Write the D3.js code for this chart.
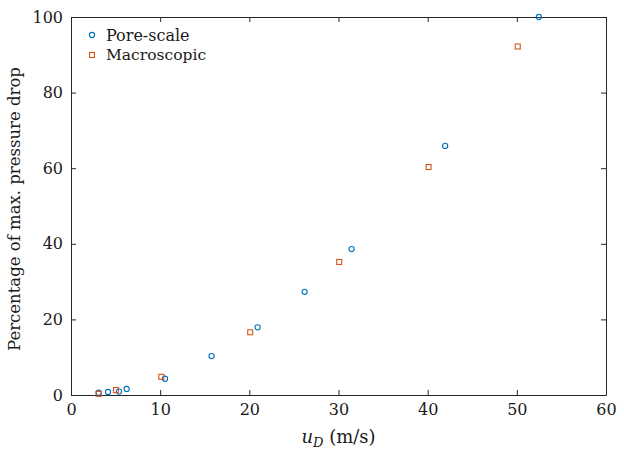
<!DOCTYPE html>
<html>
<head>
<meta charset="utf-8">
<script src="https://cdn.jsdelivr.net/npm/d3@7"></script>
<style>
  body { margin: 0; background: #fff; }
</style>
</head>
<body>
<div id="chart"></div>
<script>
// pore-scale simulation (circles)
const poreU = [3.1, 4.15, 5.38, 6.24, 10.54, 15.77, 20.93, 26.2, 31.47, 41.96, 52.47];
const poreP = [0.6, 0.8, 0.9, 1.6, 4.3, 10.3, 17.9, 27.3, 38.6, 65.9, 100];
// macroscopic model (squares)
const macroU = [3.1, 5.04, 10.13, 20.1, 30.08, 40.1, 50.1];
const macroP = [0.3, 1.3, 4.8, 16.6, 35.2, 60.3, 92.2];

const xTicks = [0, 10, 20, 30, 40, 50, 60];
const yTicks = [0, 20, 40, 60, 80, 100];

const W = 624, H = 449;
const margin = {left: 71, right: 18, top: 17, bottom: 54};
const width = W - margin.left - margin.right, height = H - margin.top - margin.bottom;
const axisColor = "#262626";
const blue = "#0072BD", orange = "#D95319";
const serif = "DejaVu Serif";

const svg = d3.select("#chart").append("svg")
    .attr("width", W).attr("height", H)
    .attr("font-family", serif)
  .append("g")
    .attr("transform", "translate(" + margin.left + "," + margin.top + ")");

const x = d3.scaleLinear().domain([0, 60]).range([0, width]);
const y = d3.scaleLinear().domain([0, 100]).range([height, 0]);

// axes, ticks pointing inward, on all four sides
function styleAxis(g) {
    g.attr("font-family", serif);
    g.select(".domain").attr("stroke", axisColor).attr("stroke-width", 1);
    g.selectAll(".tick line").attr("stroke", axisColor);
    g.selectAll(".tick text").style("font-size", "16px").attr("fill", "#1a1a1a");
}
svg.append("g").attr("transform", "translate(0," + height + ")")
    .call(d3.axisBottom(x).tickValues(xTicks).tickSizeInner(-5).tickSizeOuter(0).tickPadding(9))
    .call(styleAxis);
svg.append("g")
    .call(d3.axisLeft(y).tickValues(yTicks).tickSizeInner(-5).tickSizeOuter(0).tickPadding(8))
    .call(styleAxis);
svg.append("g")
    .call(d3.axisTop(x).tickValues(xTicks).tickSizeInner(-5).tickSizeOuter(0).tickFormat(""))
    .call(styleAxis);
svg.append("g").attr("transform", "translate(" + width + ",0)")
    .call(d3.axisRight(y).tickValues(yTicks).tickSizeInner(-5).tickSizeOuter(0).tickFormat(""))
    .call(styleAxis);

// data
svg.append("g").selectAll("circle")
    .data(d3.zip(poreU, poreP))
    .enter().append("circle")
    .attr("cx", d => x(d[0]))
    .attr("cy", d => y(d[1]))
    .attr("r", 2.6)
    .attr("fill", "none")
    .attr("stroke", blue)
    .attr("stroke-width", 1.1);

const s = 5;
svg.append("g").selectAll("rect")
    .data(d3.zip(macroU, macroP))
    .enter().append("rect")
    .attr("x", d => x(d[0]) - s / 2)
    .attr("y", d => y(d[1]) - s / 2)
    .attr("width", s).attr("height", s)
    .attr("fill", "none")
    .attr("stroke", orange)
    .attr("stroke-width", 1.1);

// legend
const legend = svg.append("g").attr("transform", "translate(21,18)");
legend.append("circle").attr("cx", 0).attr("cy", 0).attr("r", 2.6)
    .attr("fill", "none").attr("stroke", blue).attr("stroke-width", 1.1);
legend.append("text").attr("x", 14).attr("y", 0).attr("dy", "0.35em")
    .style("font-size", "16px").attr("fill", "#1a1a1a").text("Pore-scale");
legend.append("rect").attr("x", -s / 2).attr("y", 20 - s / 2).attr("width", s).attr("height", s)
    .attr("fill", "none").attr("stroke", orange).attr("stroke-width", 1.1);
legend.append("text").attr("x", 14).attr("y", 20).attr("dy", "0.35em")
    .style("font-size", "15.5px").attr("fill", "#1a1a1a").text("Macroscopic");

// axis labels
const xl = svg.append("text")
    .attr("x", width / 2).attr("y", height + 48)
    .attr("text-anchor", "middle")
    .attr("fill", "#1a1a1a")
    .style("font-size", "18px");
xl.append("tspan").style("font-style", "italic").text("u");
xl.append("tspan").attr("dy", 4).style("font-size", "13px").style("font-style", "italic").text("D");
xl.append("tspan").attr("dy", -4).text(" (m/s)");

svg.append("text")
    .attr("transform", "translate(-51," + (height / 2 + 3) + ") rotate(-90)")
    .attr("text-anchor", "middle")
    .attr("fill", "#1a1a1a")
    .style("font-size", "16.5px")
    .text("Percentage of max. pressure drop");
</script>
</body>
</html>
